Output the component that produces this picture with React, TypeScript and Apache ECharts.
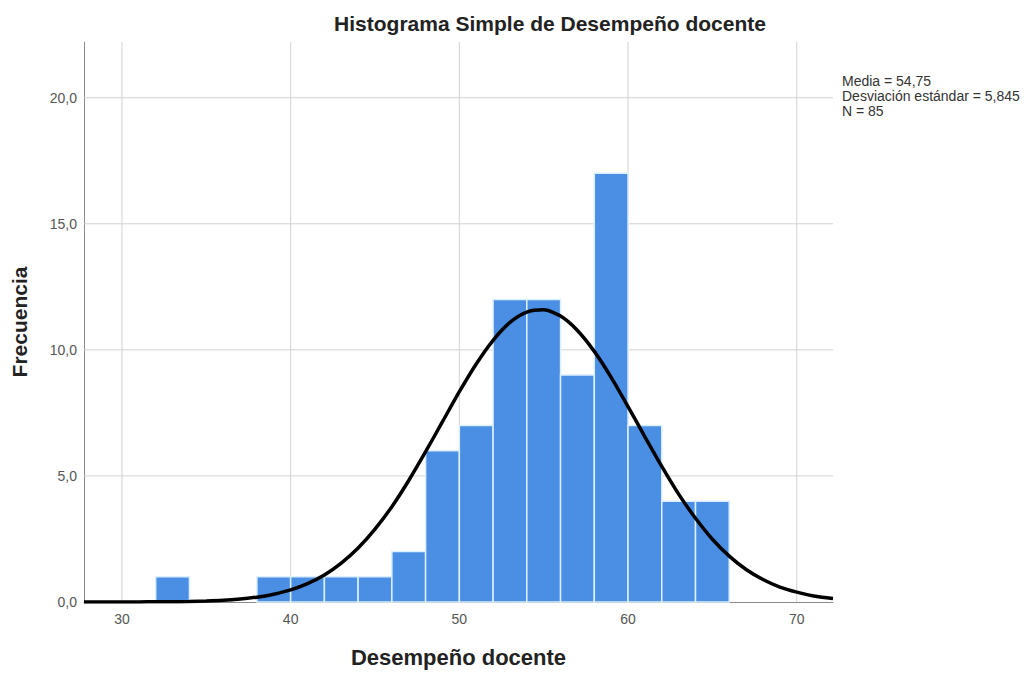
import React, { useEffect, useRef } from "react";
import * as echarts from "echarts";

// Histogram bins (start of each 2-unit bin) and their frequencies
const binStarts = [32, 38, 40, 42, 44, 46, 48, 50, 52, 54, 56, 58, 60, 62, 64];
const binCounts = [1, 1, 1, 1, 1, 2, 6, 7, 12, 12, 9, 17, 7, 4, 4];
const binWidth = 2;

// Normal curve points
const curveX = [27.75, 28, 29, 30, 31, 32, 33, 34, 35, 36, 37, 38, 39, 40, 41, 42, 43, 44, 45, 46, 47, 48, 49, 50, 51, 52, 53, 54, 55, 56, 57, 58, 59, 60, 61, 62, 63, 64, 65, 66, 67, 68, 69, 70, 71, 72, 72.15];
const curveY = [0.0, 0.0, 0.0, 0.0, 0.0, 0.01, 0.01, 0.02, 0.04, 0.07, 0.12, 0.19, 0.31, 0.48, 0.73, 1.07, 1.54, 2.14, 2.89, 3.78, 4.82, 5.96, 7.15, 8.34, 9.44, 10.38, 11.09, 11.5, 11.59, 11.34, 10.77, 9.94, 8.91, 7.75, 6.55, 5.38, 4.28, 3.32, 2.49, 1.82, 1.29, 0.89, 0.59, 0.39, 0.24, 0.15, 0.14];

// Axis ticks / gridlines
const xTicks = [30, 40, 50, 60, 70];
const yGrid = [5, 10, 15, 20];

const titleText = "Histograma Simple de Desempeño docente";
const xName = "Desempeño docente";
const yName = "Frecuencia";
const statLines = ["Media = 54,75", "Desviación estándar = 5,845", "N = 85"];

const X_MIN = 27.75;
const X_MAX = 72.15;
const Y_MAX = 22.21;

const FONT = "'Liberation Sans', Arial, sans-serif";

export default function App() {
  const ref = useRef<HTMLDivElement>(null);

  useEffect(() => {
    document.body.style.margin = "0";
    if (!ref.current) return;
    const chart = echarts.init(ref.current, null, { renderer: "svg" });

    const bars = binStarts.map((s, i) => [s, s + binWidth, binCounts[i]]);
    const curve = curveX.map((x, i) => [x, curveY[i]]);

    const option: any = {
      animation: false,
      backgroundColor: "#ffffff",
      textStyle: { fontFamily: FONT },
      grid: { left: 84, right: 193, top: 42, bottom: 69, containLabel: false },
      graphic: [
        {
          type: "text",
          x: 550,
          y: 13,
          style: {
            text: titleText,
            textAlign: "center",
            textVerticalAlign: "top",
            font: `bold 21px ${FONT}`,
            fill: "#222222",
          },
        },
        {
          type: "text",
          x: 842,
          y: 73,
          style: {
            text: statLines.join("\n"),
            textAlign: "left",
            textVerticalAlign: "top",
            font: `14px ${FONT}`,
            lineHeight: 15,
            fill: "#333333",
          },
        },
      ],
      xAxis: {
        type: "value",
        min: X_MIN,
        max: X_MAX,
        name: xName,
        nameLocation: "middle",
        nameGap: 44,
        nameTextStyle: { fontSize: 22, fontWeight: "bold", color: "#222222", fontFamily: FONT },
        axisLine: { show: true, lineStyle: { color: "#8a8a8a", width: 1 } },
        axisTick: { show: false },
        splitLine: { show: false },
        axisLabel: {
          customValues: xTicks,
          margin: 10,
          fontSize: 14,
          color: "#555555",
          fontFamily: FONT,
          formatter: (v: number) => String(Math.round(v)),
        },
      },
      yAxis: {
        type: "value",
        min: 0,
        max: Y_MAX,
        interval: 5,
        name: yName,
        nameLocation: "middle",
        nameGap: 54,
        nameTextStyle: { fontSize: 21, fontWeight: "bold", color: "#222222", fontFamily: FONT },
        axisLine: { show: true, lineStyle: { color: "#8a8a8a", width: 1 } },
        axisTick: { show: false },
        splitLine: { show: false },
        axisLabel: {
          showMaxLabel: false,
          margin: 7,
          fontSize: 14,
          color: "#555555",
          fontFamily: FONT,
          formatter: (v: number) => v.toFixed(1).replace(".", ","),
        },
      },
      series: [
        {
          type: "custom",
          name: "vgrid",
          z: 1,
          silent: true,
          data: xTicks.map((v) => [v]),
          renderItem: (params: any, api: any) => {
            const cs = params.coordSys;
            const p = api.coord([api.value(0), 0]);
            return {
              type: "line",
              shape: { x1: p[0], y1: cs.y, x2: p[0], y2: cs.y + cs.height },
              style: { stroke: "#d2d2d2", lineWidth: 1 },
            };
          },
        },
        {
          type: "custom",
          name: "hgrid",
          z: 1,
          silent: true,
          data: yGrid.map((v) => [X_MIN, v]),
          renderItem: (params: any, api: any) => {
            const cs = params.coordSys;
            const p = api.coord([X_MIN, api.value(1)]);
            return {
              type: "line",
              shape: { x1: cs.x, y1: p[1], x2: cs.x + cs.width, y2: p[1] },
              style: { stroke: "#d2d2d2", lineWidth: 1 },
            };
          },
        },
        {
          type: "custom",
          name: "bars",
          z: 2,
          data: bars,
          renderItem: (params: any, api: any) => {
            const p0 = api.coord([api.value(0), api.value(2)]);
            const p1 = api.coord([api.value(1), 0]);
            return {
              type: "rect",
              shape: { x: p0[0], y: p0[1], width: p1[0] - p0[0], height: p1[1] - p0[1] },
              style: { fill: "#4a8fe4", stroke: "#dcefff", lineWidth: 1.5 },
            };
          },
        },
        {
          type: "line",
          name: "normal",
          z: 3,
          data: curve,
          smooth: 0.25,
          showSymbol: false,
          symbol: "none",
          lineStyle: { color: "#000000", width: 3.5 },
          silent: true,
        },
      ],
    };

    chart.setOption(option);
    return () => chart.dispose();
  }, []);

  return <div ref={ref} style={{ width: 1026, height: 673 }} />;
}
